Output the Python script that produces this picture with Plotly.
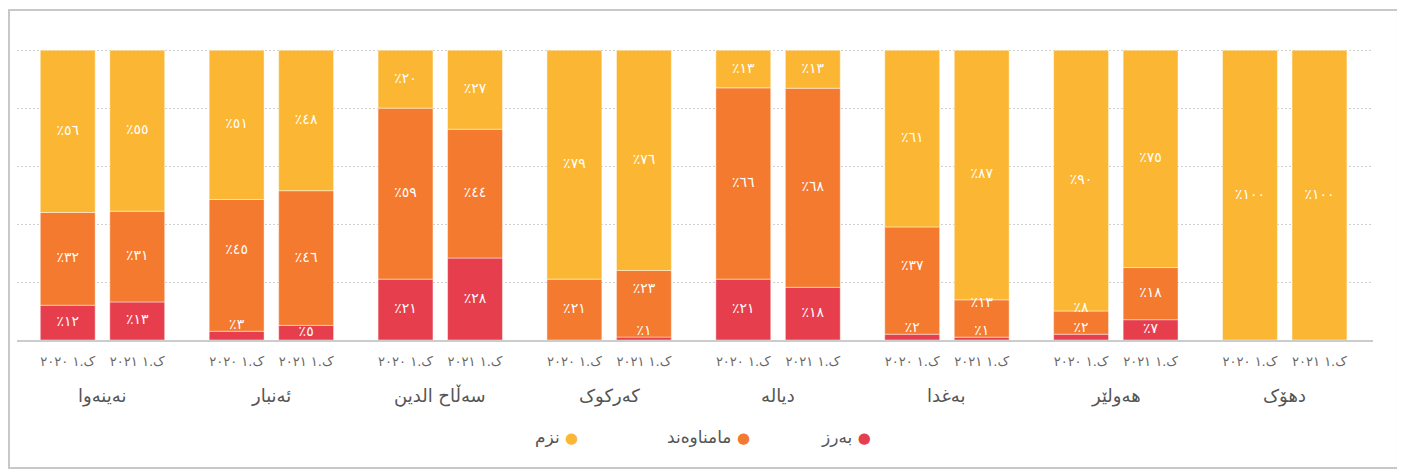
import plotly.graph_objects as go

regions = ["نەینەوا", "ئەنبار", "سەڵاح الدين", "کەرکوک", "دیالە", "بەغدا", "هەولێر", "دهۆک"]
years = ["ک.١ ٢٠٢٠", "ک.١ ٢٠٢١"]
series_names = ["بەرز", "مامناوەند", "نزم"]
colors = ["#e63e4d", "#f37a2e", "#fbb733"]

high_2020 = [12, 3, 21, 0, 21, 2, 2, 0]
high_2021 = [13, 5, 28, 1, 18, 1, 7, 0]
mid_2020 = [32, 45, 59, 21, 66, 37, 8, 0]
mid_2021 = [31, 46, 44, 23, 68, 13, 18, 0]
low_2020 = [56, 51, 20, 79, 13, 61, 90, 100]
low_2021 = [55, 48, 27, 76, 13, 87, 75, 100]

values = {
    0: [high_2020, mid_2020, low_2020],
    1: [high_2021, mid_2021, low_2021],
}

DIG = str.maketrans("0123456789", "٠١٢٣٤٥٦٧٨٩")


def ar(n):
    return str(n).translate(DIG)


GROUP_STEP = 2.43
BAR_W = 0.79

xs, xlabels = [], []
for g in range(len(regions)):
    for k in range(len(years)):
        xs.append(g * GROUP_STEP + k)
        xlabels.append(years[k])

fig = go.Figure()

# stacked bars
for s in range(3):
    ys = []
    for g in range(len(regions)):
        for k in range(len(years)):
            v = values[k][s][g]
            ys.append(v if v > 0 else None)
    fig.add_trace(go.Bar(
        x=xs, y=ys, name=series_names[s], width=BAR_W,
        marker=dict(color=colors[s], line=dict(color="rgba(255,255,255,0.45)", width=1)),
        hoverinfo="skip", showlegend=False,
    ))

# data labels (positions derived from the normalised stacked values)
lx, ly, lt = [], [], []
for g in range(len(regions)):
    for k in range(len(years)):
        raw = [values[k][s][g] for s in range(3)]
        tot = sum(raw)
        cum = 0.0
        prev_small = False
        for s in range(3):
            v = raw[s] / tot * 100
            if raw[s] > 0:
                if raw[s] < 5:
                    y = cum + v + 2.0
                    prev_small = True
                else:
                    y = cum + v / 2 + (5 if prev_small else 0)
                    prev_small = False
                lx.append(g * GROUP_STEP + k)
                ly.append(y)
                lt.append("٪" + ar(raw[s]))
            cum += v

fig.add_trace(go.Scatter(
    x=lx, y=ly, text=lt, mode="text", textposition="middle center",
    textfont=dict(color="white", size=14, family="DejaVu Sans"),
    hoverinfo="skip", showlegend=False,
))

xmin = -0.73
xmax = (len(regions) - 1) * GROUP_STEP + 1 + 0.77

annotations = []
for g, r in enumerate(regions):
    annotations.append(dict(
        x=g * GROUP_STEP + 0.5, y=-0.192, xref="x", yref="paper",
        text=r, showarrow=False, xanchor="center", yanchor="middle",
        font=dict(size=18, color="#555555", family="DejaVu Sans"),
    ))

legend_x = [0.611, 0.5096, 0.3975]
for s in range(3):
    annotations.append(dict(
        x=legend_x[s], y=-0.332, xref="paper", yref="paper",
        text=series_names[s] + " <span style='color:%s;font-size:15px'>●</span>" % colors[s],
        showarrow=False, xanchor="center", yanchor="middle",
        font=dict(size=17, color="#555555", family="DejaVu Sans"),
    ))

fig.update_layout(
    width=1397, height=463,
    margin=dict(l=9, r=32, t=41, b=131),
    barmode="relative", barnorm="percent",
    plot_bgcolor="white", paper_bgcolor="white",
    font=dict(family="DejaVu Sans", color="#555555"),
    showlegend=False,
    annotations=annotations,
    shapes=[dict(
        type="rect", xref="paper", yref="paper",
        x0=-0.0059, x1=1.0184, y0=-0.4399, y1=1.1340,
        line=dict(color="#c8c8c8", width=2), fillcolor="rgba(0,0,0,0)", layer="below",
    )],
    xaxis=dict(
        range=[xmin, xmax], tickmode="array", tickvals=xs, ticktext=xlabels,
        showgrid=False, zeroline=False, showline=True, linecolor="#cccccc", linewidth=2,
        ticks="", tickfont=dict(size=13, color="#666666", family="DejaVu Sans"),
        ticklabelstandoff=8,
    ),
    yaxis=dict(
        range=[0, 100.4], tickmode="array", tickvals=[20, 40, 60, 80, 100],
        showticklabels=False, zeroline=False,
        showgrid=True, gridcolor="#cfcfcf", griddash="2px,2px", gridwidth=1,
    ),
)

fig.write_html("out.html")
